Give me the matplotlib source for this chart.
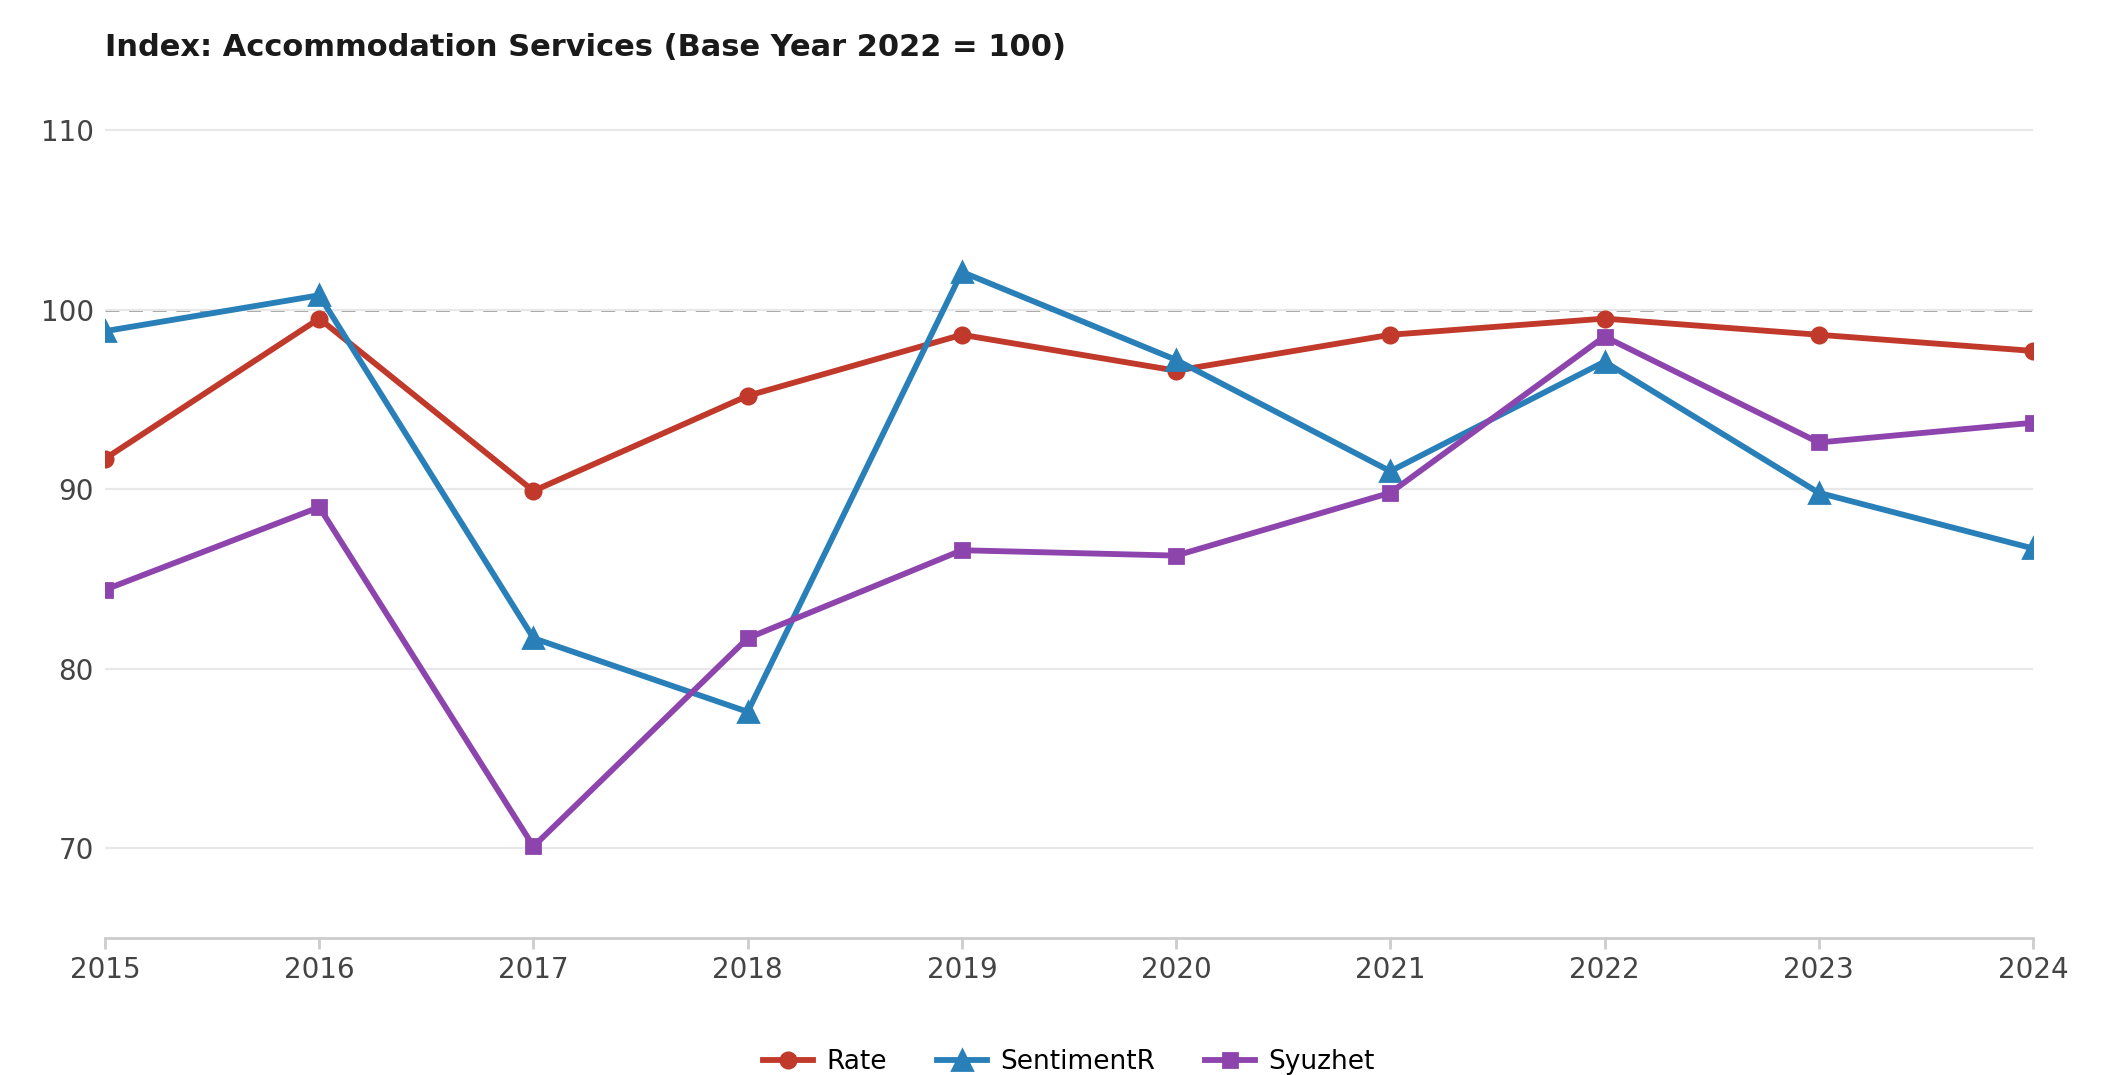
import matplotlib
matplotlib.use("Agg")
import matplotlib.pyplot as plt

years = [2015, 2016, 2017, 2018, 2019, 2020, 2021, 2022, 2023, 2024]
rate = [91.7, 99.5, 89.9, 95.2, 98.6, 96.6, 98.6, 99.5, 98.6, 97.7]
sentimentr = [98.8, 100.8, 81.7, 77.6, 102.1, 97.2, 91.0, 97.1, 89.8, 86.7]
syuzhet = [84.4, 89.0, 70.1, 81.7, 86.6, 86.3, 89.8, 98.5, 92.6, 93.7]
yticks = [70, 80, 90, 100, 110]
title = "Index: Accommodation Services (Base Year 2022 = 100)"

plt.rcParams['font.family'] = ['DejaVu Sans']
fig = plt.figure(figsize=(2101/200, 1075/200), dpi=200)
ax_left, ax_width = 0.05, 0.9176
ax = fig.add_axes([ax_left, 0.1274, ax_width, 0.785])

ax.axhline(100, color='#999999', lw=1.0, ls=(0, (5, 3.5)), zorder=1)
ax.plot(years, rate, color='#c0392b', lw=2.1, marker='o', ms=5.5, label='Rate', zorder=3)
ax.plot(years, sentimentr, color='#2980b9', lw=2.1, marker='^', ms=7, label='SentimentR', zorder=3)
ax.plot(years, syuzhet, color='#8e44ad', lw=2.1, marker='s', ms=5, label='Syuzhet', zorder=3)

ax.set_xlim(2015, 2024)
ax.set_ylim(65, 112)
ax.set_xticks(years)
ax.set_xticklabels([str(y) for y in years])
ax.set_yticks(yticks)
ax.grid(axis='y', color='#e8e8e8', lw=0.8, zorder=0)
for s in ['top', 'right', 'left']:
    ax.spines[s].set_visible(False)
ax.spines['bottom'].set_color('#cccccc')
ax.spines['bottom'].set_linewidth(1.0)
ax.tick_params(axis='x', colors='#cccccc', length=4, width=1.0, labelcolor='#444444', labelsize=10, pad=2.5)
ax.tick_params(axis='y', length=0, labelcolor='#444444', labelsize=10, pad=4)

fig.text(ax_left, 0.956, title, fontsize=11, fontweight='bold', color='#1a1a1a', ha='left', va='center')
fig.legend(loc='center', bbox_to_anchor=(ax_left + ax_width / 2, 0.012), ncol=3, frameon=False, fontsize=9.5,
           handlelength=1.9, columnspacing=1.9, handletextpad=0.5)

fig.savefig('out.png', dpi=200, facecolor='white')
